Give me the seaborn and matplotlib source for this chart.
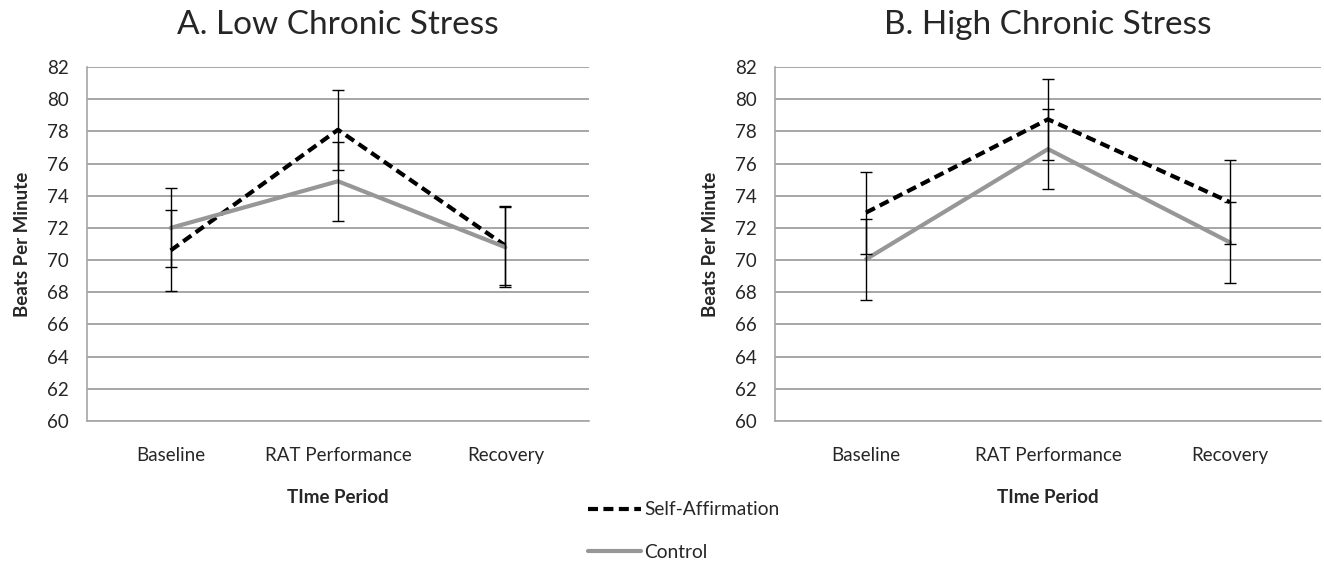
import numpy as np
import pandas as pd
import matplotlib
matplotlib.use("Agg")
import matplotlib.pyplot as plt
from matplotlib.lines import Line2D
from matplotlib.ticker import FixedLocator
import seaborn as sns

# values
periods = ["Baseline", "RAT Performance", "Recovery"]
conditions = ["Self-Affirmation", "Control"]

low_sa = [70.6, 78.1, 70.9]
low_sa_err = [2.5, 2.5, 2.45]
low_ctrl = [72.0, 74.9, 70.8]
low_ctrl_err = [2.45, 2.45, 2.5]

high_sa = [72.95, 78.75, 73.6]
high_sa_err = [2.55, 2.5, 2.6]
high_ctrl = [70.05, 76.9, 71.1]
high_ctrl_err = [2.5, 2.5, 2.5]

titles = ["A. Low Chronic Stress", "B. High Chronic Stress"]
y_ticks = list(range(60, 84, 2))

GRAY = "#979797"
AXIS_GRAY = "#a6a6a6"


def long_frame(sa, sa_err, ctrl, ctrl_err):
    rows = []
    for cond, vals, errs in [(conditions[0], sa, sa_err), (conditions[1], ctrl, ctrl_err)]:
        for p, v, e in zip(periods, vals, errs):
            rows.append({"period": p, "bpm": v, "err": e, "condition": cond})
    return pd.DataFrame(rows)


def draw_panel(ax, df, title):
    sns.lineplot(
        data=df, x="period", y="bpm", hue="condition", style="condition",
        hue_order=conditions, style_order=conditions,
        palette={conditions[0]: "black", conditions[1]: GRAY},
        dashes={conditions[0]: (2.4, 1.3), conditions[1]: ""},
        linewidth=3.0, sort=False, legend=False, ax=ax, zorder=2,
    )
    for cond in conditions:
        sub = df[df["condition"] == cond]
        ax.errorbar(sub["period"], sub["bpm"], yerr=sub["err"], fmt="none",
                    ecolor="black", elinewidth=1.0, capsize=4, capthick=1.0, zorder=3)

    ax.set_xlim(-0.5, len(periods) - 0.5)
    ax.set_ylim(60, 82)
    ax.set_yticks(y_ticks)
    ax.xaxis.set_minor_locator(FixedLocator(np.arange(-0.5, len(periods), 1.0)))
    ax.tick_params(axis="x", which="major", length=0, pad=19, labelsize=13.5)
    ax.tick_params(axis="x", which="minor", length=6, width=1.2, color=AXIS_GRAY)
    ax.tick_params(axis="y", length=6, width=1.2, color=AXIS_GRAY, pad=7, labelsize=13.5)
    ax.yaxis.grid(True, color=AXIS_GRAY, linewidth=1.4)
    ax.xaxis.grid(False)
    for side in ["top", "right"]:
        ax.spines[side].set_visible(False)
    for side in ["left", "bottom"]:
        ax.spines[side].set_color(AXIS_GRAY)
        ax.spines[side].set_linewidth(1.2)
    ax.set_xlabel("TIme Period", fontweight="bold", fontsize=13.5, labelpad=18)
    ax.set_ylabel("Beats Per Minute", fontweight="bold", fontsize=13.5, labelpad=12)
    ax.set_title(title, fontsize=24, pad=24)


sns.set_style("white")
plt.rcParams["font.family"] = ["Lato", "DejaVu Sans"]

fig = plt.figure(figsize=(13.24, 5.61), dpi=100)
ax_low = fig.add_axes([87 / 1324, 140 / 561, 502 / 1324, 354 / 561])
ax_high = fig.add_axes([775 / 1324, 140 / 561, 546 / 1324, 354 / 561])

draw_panel(ax_low, long_frame(low_sa, low_sa_err, low_ctrl, low_ctrl_err), titles[0])
draw_panel(ax_high, long_frame(high_sa, high_sa_err, high_ctrl, high_ctrl_err), titles[1])

handles = [
    Line2D([], [], color="black", linewidth=3.0, dashes=(2.4, 1.3)),
    Line2D([], [], color=GRAY, linewidth=3.0),
]
fig.legend(handles, conditions, loc="upper left", bbox_to_anchor=(571 / 1324, 1 - 484 / 561),
           frameon=False, fontsize=13.8, handlelength=2.75, handletextpad=0.15, labelspacing=1.35)

fig.savefig("out.png", dpi=100)
